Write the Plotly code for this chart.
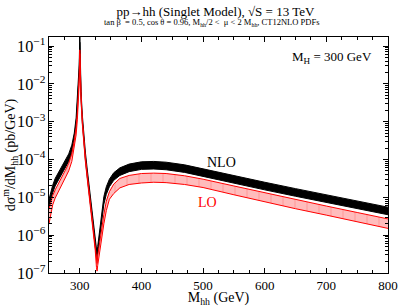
import plotly.graph_objects as go

# Invariant mass grid (GeV)
m_hh = [250, 253, 256, 260, 265, 270, 276, 282, 287, 291, 294, 296, 298, 299, 300,
        301, 302, 304, 306, 309, 312, 316, 320, 323, 325, 327, 328, 329, 331, 333,
        336, 339, 343, 348, 355, 365, 380, 400, 420, 440, 470, 500, 550, 600, 650,
        700, 750, 800]

# NLO band (pb/GeV)
nlo_low = [5.6e-6, 8.9e-6, 1.32e-5, 2.0e-5, 2.82e-5, 3.98e-5, 5.89e-5, 8.91e-5, 1.51e-4, 3.16e-4,
           7.94e-4, 2.24e-3, 7.94e-3, 2.0e-2, 0.126,
           1.58e-2, 3.98e-3, 1.0e-3, 3.55e-4, 1.0e-4, 3.55e-5, 8.91e-6, 2.82e-6, 1.12e-6, 5.62e-7,
           2.51e-7, 2.0e-7, 3.16e-7, 6.31e-7, 1.26e-6,
           3.16e-6, 6.61e-6, 1.2e-5, 1.91e-5, 2.82e-5, 3.8e-5, 4.79e-5, 5.5e-5, 5.62e-5, 5.37e-5,
           4.57e-5, 3.55e-5, 2.4e-5, 1.58e-5, 1.07e-5, 7.41e-6, 5.13e-6, 3.47e-6]
nlo_high = [8.9e-6, 1.41e-5, 2.09e-5, 3.16e-5, 4.47e-5, 6.31e-5, 9.33e-5, 1.41e-4, 2.4e-4, 5.01e-4,
            1.26e-3, 3.55e-3, 1.26e-2, 3.16e-2, 0.2,
            2.51e-2, 6.31e-3, 1.58e-3, 5.62e-4, 1.58e-4, 5.62e-5, 1.41e-5, 4.47e-6, 1.78e-6, 8.91e-7,
            3.98e-7, 3.16e-7, 5.01e-7, 1.0e-6, 2.0e-6,
            5.01e-6, 1.05e-5, 1.91e-5, 3.02e-5, 4.47e-5, 6.03e-5, 7.59e-5, 8.71e-5, 8.91e-5, 8.51e-5,
            7.24e-5, 5.62e-5, 3.8e-5, 2.51e-5, 1.7e-5, 1.17e-5, 8.13e-6, 5.5e-6]

# LO band (pb/GeV)
lo_low = [2.0e-6, 3.98e-6, 6.31e-6, 9.55e-6, 1.41e-5, 2.09e-5, 3.16e-5, 5.01e-5, 8.91e-5, 2.0e-4,
          4.47e-4, 1.12e-3, 3.98e-3, 1.0e-2, 6.31e-2,
          1.12e-2, 3.55e-3, 8.91e-4, 3.16e-4, 8.91e-5, 3.16e-5, 7.94e-6, 2.4e-6, 8.91e-7, 3.98e-7,
          1.41e-7, 1.12e-7, 1.58e-7, 2.82e-7, 4.47e-7,
          8.91e-7, 2.0e-6, 4.47e-6, 8.91e-6, 1.26e-5, 1.78e-5, 2.19e-5, 2.4e-5, 2.51e-5, 2.45e-5,
          2.19e-5, 1.82e-5, 1.17e-5, 7.59e-6, 5.01e-6, 3.39e-6, 2.29e-6, 1.51e-6]
lo_high = [5.01e-6, 7.94e-6, 1.12e-5, 1.58e-5, 2.34e-5, 3.39e-5, 5.01e-5, 7.94e-5, 1.41e-4, 3.16e-4,
           7.08e-4, 1.78e-3, 6.31e-3, 1.58e-2, 7.94e-2,
           1.58e-2, 5.01e-3, 1.2e-3, 4.17e-4, 1.17e-4, 4.17e-5, 1.07e-5, 3.31e-6, 1.32e-6, 6.31e-7,
           2.51e-7, 1.78e-7, 2.82e-7, 5.01e-7, 8.91e-7,
           1.78e-6, 3.55e-6, 7.94e-6, 1.41e-5, 2.24e-5, 3.16e-5, 3.8e-5, 4.27e-5, 4.37e-5, 4.27e-5,
           3.72e-5, 3.02e-5, 2.0e-5, 1.32e-5, 8.71e-6, 5.89e-6, 3.98e-6, 2.69e-6]

x_ticks = [300, 400, 500, 600, 700, 800]

SERIF = "Liberation Serif, Times New Roman, serif"

fig = go.Figure()

# NLO band
fig.add_trace(go.Scatter(x=m_hh, y=nlo_low, mode="lines",
                         line=dict(color="black", width=1), showlegend=False, hoverinfo="skip"))
fig.add_trace(go.Scatter(x=m_hh, y=nlo_high, mode="lines", fill="tonexty", fillcolor="black",
                         line=dict(color="black", width=1), showlegend=False, hoverinfo="skip"))

# LO band
fig.add_trace(go.Scatter(x=m_hh, y=lo_low, mode="lines",
                         line=dict(color="red", width=1), showlegend=False, hoverinfo="skip"))
fig.add_trace(go.Scatter(x=m_hh, y=lo_high, mode="lines", fill="tonexty",
                         fillcolor="#ffb8b8",
                         fillpattern=dict(shape="|", bgcolor="#ffbcbc", fgcolor="#ff7070",
                                          size=12, solidity=0.08),
                         line=dict(color="red", width=1), showlegend=False, hoverinfo="skip"))

axis_common = dict(showline=True, linecolor="black", linewidth=1, mirror="allticks",
                   ticks="inside", ticklen=5, tickcolor="black", showgrid=False, zeroline=False,
                   automargin=False,
                   tickfont=dict(family=SERIF, size=13, color="black"))

fig.update_xaxes(range=[250, 800], tickvals=x_ticks,
                 minor=dict(ticks="inside", ticklen=3, dtick=25, tick0=0, tickcolor="black"),
                 title=dict(text="M<sub>hh</sub> (GeV)", font=dict(family=SERIF, size=14, color="black"),
                            standoff=1),
                 **axis_common)
fig.update_yaxes(type="log", range=[-7, -0.76], dtick=1, exponentformat="power",
                 minor=dict(ticks="inside", ticklen=3, tickcolor="black", dtick="D1"),
                 title=dict(text="dσ<sup>m</sup>/dM<sub>hh</sub> (pb/GeV)",
                            font=dict(family=SERIF, size=14, color="black"), standoff=4),
                 **axis_common)

fig.update_layout(
    width=399, height=307,
    margin=dict(l=49, r=11, t=37, b=34),
    paper_bgcolor="white", plot_bgcolor="white",
    font=dict(family=SERIF, color="black"),
    showlegend=False,
    title=dict(text="pp→hh (Singlet Model), √S = 13 TeV", x=0.54, xanchor="center",
               y=1 - 11 / 307, yanchor="middle", yref="container",
               font=dict(family=SERIF, size=13, color="black")),
    annotations=[
        dict(x=0.48, y=1 + 14 / 236, xref="paper", yref="paper", yanchor="middle",
             text="tan β  = 0.5, cos θ = 0.96, M<sub>hh</sub>/2 <  μ < 2 M<sub>hh</sub>, CT12NLO PDFs",
             showarrow=False, font=dict(family=SERIF, size=8.5, color="black")),
        dict(x=0.96, y=0.915, xref="paper", yref="paper", xanchor="right", yanchor="middle",
             text="M<sub>H</sub> = 300 GeV", showarrow=False,
             font=dict(family=SERIF, size=13, color="black")),
        dict(x=0.51, y=0.47, xref="paper", yref="paper", xanchor="center", yanchor="middle",
             text="NLO", showarrow=False, font=dict(family=SERIF, size=14, color="black")),
        dict(x=0.469, y=0.30, xref="paper", yref="paper", xanchor="center", yanchor="middle",
             text="LO", showarrow=False, font=dict(family=SERIF, size=14, color="red")),
    ],
)

fig.write_html("out.html", config={"displayModeBar": False},
               post_script="document.body.style.margin='0';")
